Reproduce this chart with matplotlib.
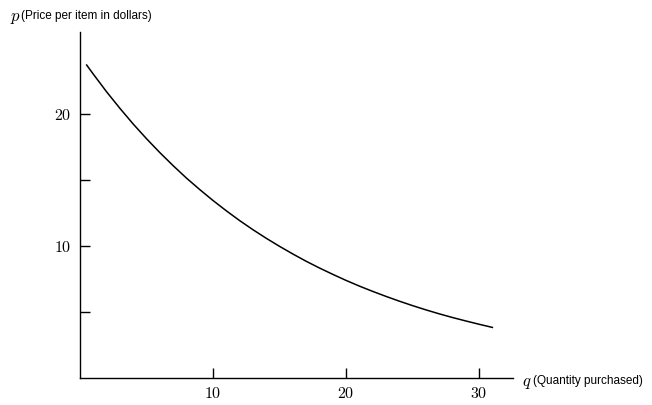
import numpy as np
import matplotlib.pyplot as plt
from matplotlib.ticker import FixedLocator, FuncFormatter

plt.rcParams['mathtext.fontset'] = 'cm'

# demand curve
q_vals = [0.5, 1, 2, 3, 4, 5, 6, 7, 8, 9, 10, 11, 12, 13, 14, 15, 16,
          17, 18, 19, 20, 21, 22, 23, 24, 25, 26, 27, 28, 29, 30, 31]
p_vals = [23.70, 23.01, 21.67, 20.42, 19.23, 18.12, 17.07, 16.08, 15.14,
          14.27, 13.44, 12.66, 11.92, 11.23, 10.58, 9.97, 9.39, 8.84, 8.33,
          7.85, 7.39, 6.96, 6.56, 6.18, 5.82, 5.48, 5.16, 4.86, 4.58, 4.32,
          4.07, 3.83]

x_ticks = [10, 20, 30]
y_ticks = [10, 20]
y_minor = [5, 15]

fig = plt.figure(figsize=(6.52, 4.05), dpi=100)
ax = fig.add_axes([80/652, 27/405, 433/652, 346/405])

ax.plot(q_vals, p_vals, color='black', lw=1.1)

ax.set_xlim(0, 32.55)
ax.set_ylim(0, 26.2)
for s in ['top', 'right']:
    ax.spines[s].set_visible(False)
for s in ['left', 'bottom']:
    ax.spines[s].set_linewidth(1.0)

ax.xaxis.set_major_locator(FixedLocator(x_ticks))
ax.yaxis.set_major_locator(FixedLocator(y_ticks))
ax.yaxis.set_minor_locator(FixedLocator(y_minor))
fmt = FuncFormatter(lambda v, pos: r'$%d$' % v)
ax.xaxis.set_major_formatter(fmt)
ax.yaxis.set_major_formatter(fmt)
ax.tick_params(which='both', direction='in', length=7, width=1, labelsize=11.5, pad=6)
ax.tick_params(axis='y', pad=6)

fig.text(10/652, 1 - 17/405, r'$p$', fontsize=12, va='center', ha='left')
fig.text(21/652, 1 - 16/405, '(Price per item in dollars)', fontsize=8.5,
         family='Liberation Sans', va='center', ha='left')
fig.text(522/652, 1 - 382/405, r'$q$', fontsize=12, va='center', ha='left')
fig.text(533/652, 1 - 381/405, '(Quantity purchased)', fontsize=8.5,
         family='Liberation Sans', va='center', ha='left')

fig.savefig('out.png', dpi=100)
